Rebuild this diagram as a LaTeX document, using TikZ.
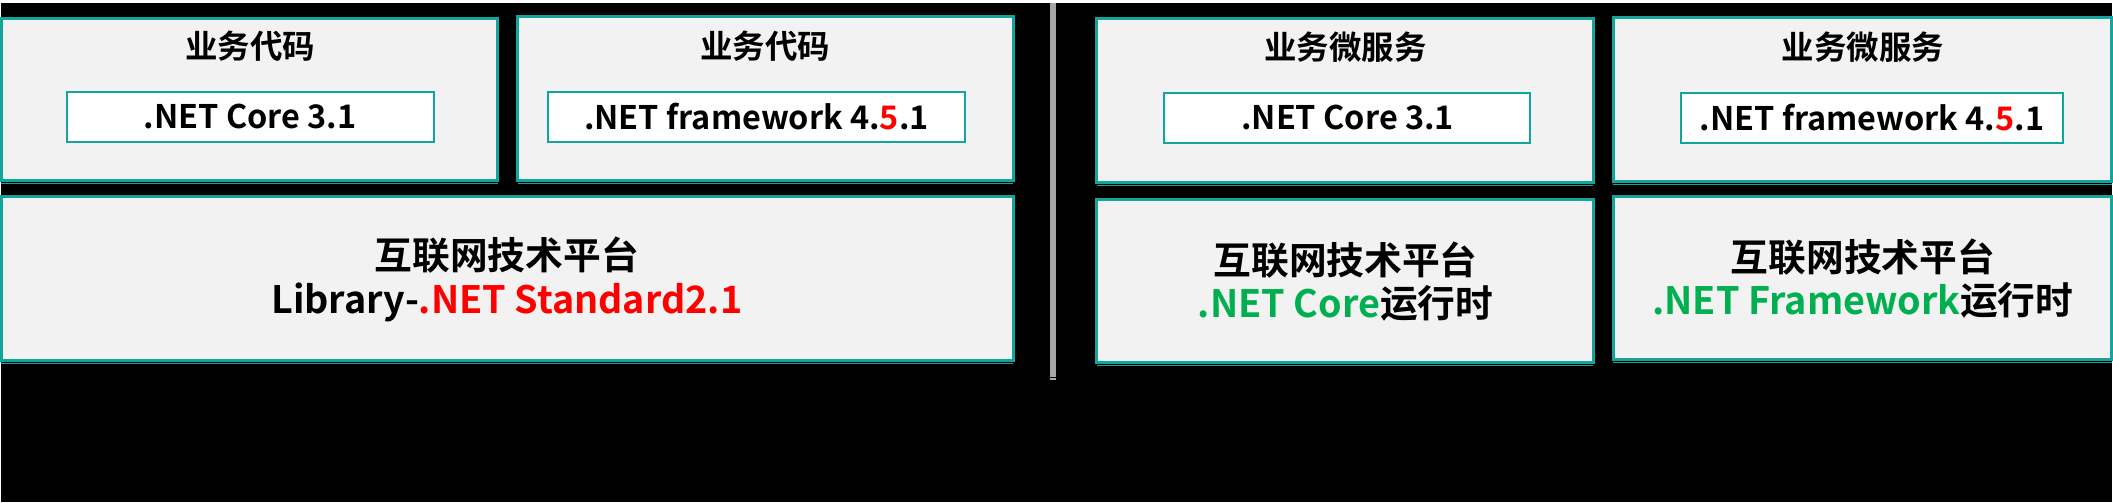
\documentclass[tikz,border=0pt]{standalone}
\usepackage{fontspec}
\setmainfont{Noto Sans CJK SC}[BoldFont={Noto Sans CJK SC Bold}]
\usepackage{xcolor}
\usetikzlibrary{positioning}

\definecolor{tealline}{HTML}{12A59C}
\definecolor{boxgray}{HTML}{F2F2F2}
\definecolor{sepgray}{HTML}{A6A6A6}
\definecolor{netgreen}{HTML}{00B050}
\definecolor{netred}{HTML}{FF0000}

\begin{document}
\begin{tikzpicture}[x=0.02cm,y=-0.02cm,
            panel/.style={draw=tealline, line width=0.06cm, fill=boxgray},
            verbox/.style={draw=tealline, line width=0.04cm, fill=white},
            txt/.style={font=\bfseries\fontsize{18.5}{25}\selectfont, align=center, inner sep=0pt},
            bigtxt/.style={txt, font=\bfseries\fontsize{21.5}{25}\selectfont}]
        % background and separator
        \fill[black] (0,0) rectangle (2113,500);
        \draw[sepgray, line width=0.12cm] (1053,0) -- (1053,375);
        \fill[sepgray] (1050,376) rectangle (1056,378);

        % left: shared library
        \draw[panel] (0,16) rectangle (497,178);
        \draw[panel] (517,14) rectangle (1013,178);
        \draw[panel] (0,194) rectangle (1013,358);
        \draw[tealline, line width=0.02cm] (0,181) -- (497,181);
        \draw[tealline, line width=0.02cm] (517,181) -- (1013,181);
        \draw[tealline, line width=0.02cm] (0,361) -- (1013,361);
        \draw[verbox] (66,89) rectangle (433,139);
        \draw[verbox] (547,89) rectangle (965,139);

        \node[txt] (codeA) at (249,43) {业务代码};
        \node[txt] (codeB) at (765,43) {业务代码};
        \node[txt] (coreA) at (249,114) {.NET Core 3.1};
        \node[txt] (fwB) at (756,114) {.NET framework 4.{\color{netred}5}.1};
        \node[bigtxt] (libL) at (506,277) {互联网技术平台\\Library-{\color{netred}.NET Standard2.1}};

        % right: separate runtimes
        \draw[panel] (1097,16) rectangle (1594,180);
        \draw[panel] (1614,15) rectangle (2113,179);
        \draw[panel] (1097,197) rectangle (1594,360);
        \draw[panel] (1614,194) rectangle (2113,357);
        \draw[tealline, line width=0.02cm] (1097,183) -- (1594,183);
        \draw[tealline, line width=0.02cm] (1614,182) -- (2113,182);
        \draw[tealline, line width=0.02cm] (1097,363) -- (1594,363);
        \draw[tealline, line width=0.02cm] (1614,360) -- (2113,360);
        \draw[verbox] (1164,90) rectangle (1531,140);
        \draw[verbox] (1682,90) rectangle (2064,140);

        \node[txt] (svcC) at (1346,44) {业务微服务};
        \node[txt] (svcD) at (1864,44) {业务微服务};
        \node[txt] (coreC) at (1348,115) {.NET Core 3.1};
        \node[txt] (fwD) at (1873,115) {.NET framework 4.{\color{netred}5}.1};
        \node[bigtxt] (rtE) at (1346,279) {互联网技术平台\\{\color{netgreen}.NET Core}运行时};
        \node[bigtxt] (rtF) at (1864,276) {互联网技术平台\\{\color{netgreen}.NET Framework}运行时};
    \end{tikzpicture}
\end{document}
